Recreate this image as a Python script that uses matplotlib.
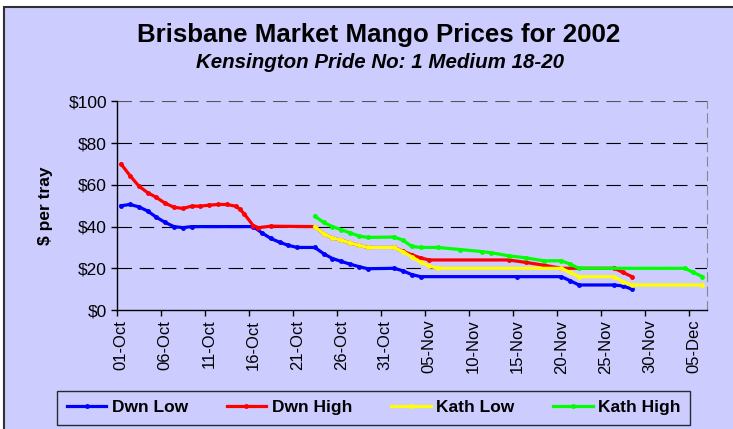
import matplotlib.pyplot as plt
from matplotlib.patches import Rectangle

# day 0 = 01-Oct-2002
dwn_low_days = [0, 1, 2, 3, 4, 5, 6, 7, 8, 15, 16, 17, 18, 19, 20, 22, 23, 24, 25, 26, 27, 28, 31, 32, 33, 34, 45, 50, 51, 52, 56, 57, 58]
dwn_low = [50, 50.6, 49.5, 47.5, 44.5, 42, 40, 39.5, 40, 40, 37, 34.3, 32.5, 31, 30, 30, 27, 24.7, 23.3, 22, 20.8, 19.8, 20, 18.8, 17, 16, 16, 16, 14, 12, 12, 11.5, 10]

dwn_high_days = [0, 1, 2, 3, 4, 5, 6, 7, 8, 9, 10, 11, 12, 13, 13.5, 14, 15, 15.6, 17, 22, 23, 24, 25, 26, 27, 28, 31, 32, 33, 34, 35, 44, 46, 48, 50, 56, 57, 58]
dwn_high = [70, 64.5, 59.5, 56.3, 54, 51.2, 49.3, 48.7, 49.8, 49.8, 50.3, 50.6, 50.6, 49.8, 48.3, 46, 40.5, 39.5, 40.2, 40, 36.5, 34.6, 33.5, 32.2, 31, 30, 30, 28.2, 26.5, 25, 24, 24, 22.8, 21.5, 20, 20, 18, 16]

kath_low_days = [22, 23, 24, 25, 26, 27, 28, 31, 32, 33, 34, 35, 36, 50, 51, 52, 56, 57, 58, 66]
kath_low = [40, 36.5, 34.6, 33.5, 32.2, 31, 30, 30, 28, 25.5, 23, 21, 20, 20, 18, 16, 16, 13.5, 12, 12]

kath_high_days = [22, 23, 24, 25, 26, 27, 28, 31, 32, 33, 34, 36, 38.5, 41, 42, 44, 46, 48, 50, 51, 52, 64, 65, 66]
kath_high = [45, 42, 40, 38.5, 37, 35.5, 34.8, 35, 33.5, 30.5, 30, 30, 29, 28, 27.5, 26, 25, 23.6, 23.6, 22, 20, 20, 18, 16]

tick_days = list(range(0, 66, 5))
tick_labels = ["01-Oct", "06-Oct", "11-Oct", "16-Oct", "21-Oct", "26-Oct", "31-Oct",
               "05-Nov", "10-Nov", "15-Nov", "20-Nov", "25-Nov", "30-Nov", "05-Dec"]
y_ticks = [0, 20, 40, 60, 80, 100]
y_labels = ["$0", "$20", "$40", "$60", "$80", "$100"]

bg = "#CCCCFF"
plt.rcParams['font.family'] = ['Liberation Sans', 'DejaVu Sans']

fig = plt.figure(figsize=(7.33, 4.29), dpi=100)
fig.patch.set_facecolor("white")
fig.patches.append(Rectangle((4 / 733, -0.05), 1.1, 1 - 7 / 429 + 0.05, transform=fig.transFigure,
                             facecolor=bg, edgecolor="#303030", linewidth=1.5, zorder=-10))

ax = fig.add_axes([116.7 / 733, 1 - 310 / 429, 590 / 733, 208.5 / 429])
ax.set_facecolor("none")

ax.plot(dwn_low_days, dwn_low, color="#0000FF", lw=2.3, marker="o", ms=2.5, label="Dwn Low")
ax.plot(dwn_high_days, dwn_high, color="#FF0000", lw=2.3, marker="o", ms=2.5, label="Dwn High")
ax.plot(kath_low_days, kath_low, color="#FFFF00", lw=2.3, marker="o", ms=2.5, label="Kath Low")
ax.plot(kath_high_days, kath_high, color="#00FF00", lw=2.3, marker="o", ms=2.5, label="Kath High")

ax.set_xlim(-0.5, 66.5)
ax.set_ylim(0, 100)

for v in y_ticks[1:]:
    ax.axhline(v, color="black" if v < 100 else "#555555", lw=0.8, ls=(0, (13, 7)), zorder=0.5)

ax.set_yticks(y_ticks)
ax.set_yticklabels(y_labels, fontsize=12.5)
ax.set_xticks([d - 0.5 for d in tick_days])
ax.set_xticklabels([])
ax.set_xticks(tick_days, minor=True)
ax.set_xticklabels(tick_labels, minor=True, rotation=90, fontsize=12)
ax.tick_params(axis="x", which="minor", length=0, pad=7)
ax.tick_params(axis="x", which="major", length=4, direction="out", width=1)
ax.tick_params(axis="y", length=4, direction="out", width=1, pad=3)

ax.spines["top"].set_visible(False)
ax.spines["right"].set_color("#888888")
ax.spines["right"].set_linestyle((0, (8, 5)))
ax.spines["left"].set_linewidth(1)
ax.spines["bottom"].set_linewidth(1)

ax.set_ylabel("$ per tray", fontsize=12.5, fontweight="bold", labelpad=11)

fig.text(379 / 733, 1 - 41.7 / 429, "Brisbane Market Mango Prices for 2002",
         ha="center", va="baseline", fontsize=18.6, fontweight="bold")
fig.text(380 / 733, 1 - 68.3 / 429, "Kensington Pride No: 1 Medium 18-20",
         ha="center", va="baseline", fontsize=14.8, fontweight="bold", style="italic")

leg = fig.legend(loc="lower left", bbox_to_anchor=(57 / 733, 1 - 425 / 429, 633 / 733, 36 / 429),
                 mode="expand", ncol=4, frameon=True, fancybox=False, numpoints=1,
                 prop={"size": 12.5, "weight": "bold"}, handlelength=2.3, handletextpad=0.3,
                 borderaxespad=0, borderpad=0.55)
leg.get_frame().set_edgecolor("black")
leg.get_frame().set_facecolor("none")
leg.get_frame().set_linewidth(1)

fig.savefig("out.png", dpi=100)
